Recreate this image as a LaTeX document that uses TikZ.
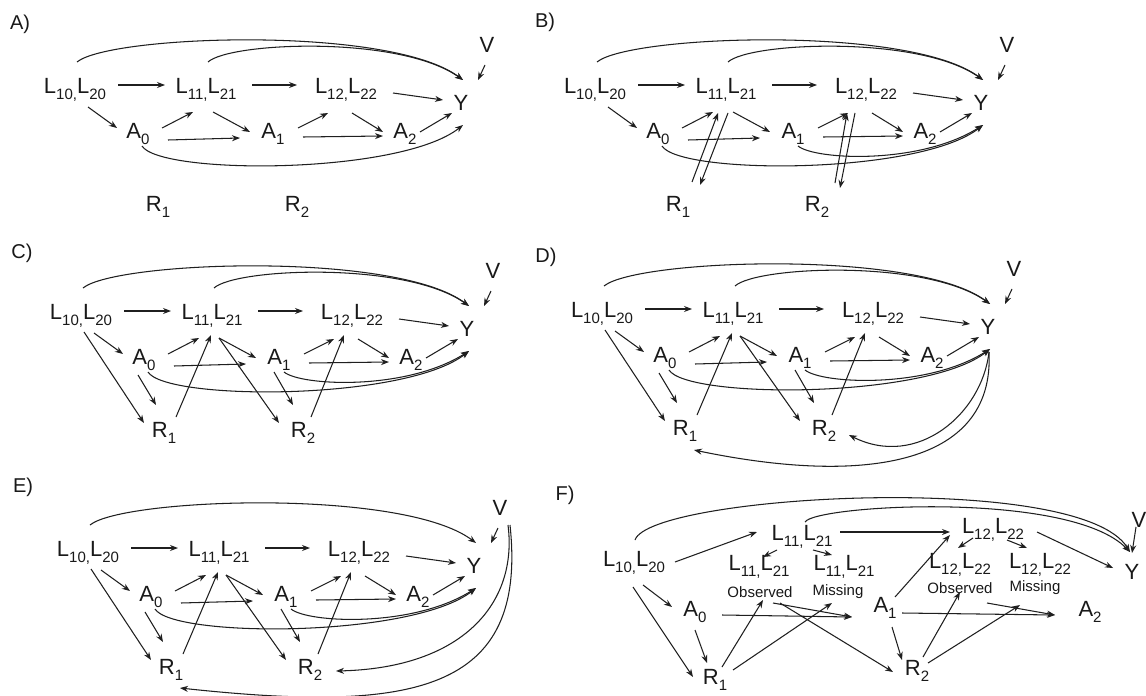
\documentclass[tikz,border=0pt]{standalone}
\usepackage{fontspec}
\setmainfont{Liberation Sans}
\usetikzlibrary{arrows.meta,calc}
\newcommand\sbs[1]{\raisebox{-0.3em}{\fontsize{15}{15}\selectfont #1}}
\newcommand\LL[2]{L\sbs{#1,}L\sbs{#2}}
\tikzset{
  nd/.style={inner sep=0pt, font=\fontsize{22}{24}\selectfont, text=black!90},
  small/.style={inner sep=0pt, font=\fontsize{15}{16}\selectfont, text=black!90},
  lab/.style={inner sep=0pt, font=\fontsize{20}{22}\selectfont, text=black!90},
  ar/.style={-{Stealth[length=8pt,width=6pt]}, line width=1.05pt, draw=black!88},
}
\newcommand\edg[4]{\draw[ar] ($(#1)+(#2)$) -- ($(#3)+(#4)$);}
\newcommand\crv[6]{\draw[ar] ($(#1)+(#2)$) .. controls (#5) and (#6) .. ($(#3)+(#4)$);}
\newcommand\tnodes[1]{%
  \node[nd] (#1L0) at (75,90) {\LL{10}{20}};
  \node[nd] (#1L1) at (206,90) {\LL{11}{21}};
  \node[nd] (#1L2) at (346,90) {\LL{12}{22}};
  \node[nd] (#1Y) at (461,103) {Y};
  \node[nd] (#1V) at (487,45) {V};
  \node[nd] (#1A0) at (138,134) {A\sbs{0}};
  \node[nd] (#1A1) at (273,134) {A\sbs{1}};
  \node[nd] (#1A2) at (405,134) {A\sbs{2}};
  \node[nd] (#1R1) at (158,207) {R\sbs{1}};
  \node[nd] (#1R2) at (297,207) {R\sbs{2}};
}
\newcommand\baseedges[1]{%
  \edg{#1L0}{43,-5}{#1L1}{-41,-5}
  \edg{#1L1}{46,-5}{#1L2}{-49,-5}
  \edg{#1L2}{47,3}{#1Y}{-18,-3}
  \edg{#1V}{-2,20}{#1Y}{17,-23}
  \edg{#1L0}{13,17}{#1A0}{-21,-6}
  \edg{#1A0}{24,-6}{#1L1}{-13,22}
  \edg{#1L1}{7,22}{#1A1}{-23,-2}
  \edg{#1A0}{30,6}{#1A1}{-33,4}
  \edg{#1A1}{25,-6}{#1L2}{-18,23}
  \edg{#1L2}{6,23}{#1A2}{-22,-2}
  \edg{#1A1}{30,3}{#1A2}{-22,2}
  \edg{#1A2}{15,-2}{#1Y}{-9,10}
}
\newcommand\LzeroTop[1]{\crv{#1L0}{2,-28}{#1Y}{2,-23}{110,35}{390,25}}
\newcommand\LoneTop[1]{\crv{#1L1}{2,-28}{#1Y}{2,-23}{230,42}{400,35}}
\newcommand\AzeroBot[1]{\crv{#1A0}{4,12}{#1Y}{2,22}{160,175}{400,175}}
\newcommand\AoneBot[1]{\crv{#1A1}{5,12}{#1Y}{2,22}{295,160}{400,165}}
\newcommand\Rextras[1]{%
  \edg{#1L0}{3,16}{#1R1}{-20,-10}
  \edg{#1A0}{-6,15}{#1R1}{-8,-28}
  \edg{#1R1}{12,-16}{#1L1}{-1,19}
  \edg{#1L1}{7,22}{#1R2}{-24,-10}
  \edg{#1A1}{-5,12}{#1R2}{-10,-28}
  \edg{#1R2}{8,-16}{#1L2}{-8,19}
}
\begin{document}
\begin{tikzpicture}[x=1pt,y=-1pt]
\useasboundingbox[fill=white] (0,0) rectangle (1146,696);
% panel labels
\node[lab] (labA) at (20,24) {A)};
\node[lab] (labB) at (545,22) {B)};
\node[lab] (labC) at (22,253) {C)};
\node[lab] (labD) at (546,257) {D)};
\node[lab] (labE) at (23,487) {E)};
\node[lab] (labF) at (565,495) {F)};
% A
\begin{scope}[shift={(0,0)}]
  \tnodes{a}\baseedges{a}
  \LzeroTop{a}\LoneTop{a}\AzeroBot{a}
\end{scope}
% B
\begin{scope}[shift={(520,0)}]
  \tnodes{b}\baseedges{b}
  \LzeroTop{b}\LoneTop{b}\AzeroBot{b}\AoneBot{b}
  \edg{bR1}{14,-25}{bL1}{-8,23}
  \edg{bL1}{2,23}{bR1}{22,-22}
  \edg{bR2}{18,-24}{bL2}{-19,23}
  \edg{bL2}{-11,23}{bR2}{23,-19}
\end{scope}
% C
\begin{scope}[shift={(6,226)}]
  \tnodes{c}\baseedges{c}
  \LzeroTop{c}\LoneTop{c}\AzeroBot{c}\AoneBot{c}
  \Rextras{c}
\end{scope}
% D
\begin{scope}[shift={(527,224)}]
  \tnodes{d}\baseedges{d}
  \LzeroTop{d}\LoneTop{d}\AzeroBot{d}\AoneBot{d}
  \Rextras{d}
  \crv{dY}{1,25}{dR2}{25,4}{455,190}{390,245}
  \crv{dY}{1,25}{dR1}{9,19}{468,245}{330,260}
\end{scope}
% E
\begin{scope}[shift={(13,463)}]
  \tnodes{e}\baseedges{e}
  \LzeroTop{e}\AzeroBot{e}\AoneBot{e}
  \Rextras{e}
  \crv{eV}{8,17}{eR2}{26,1}{505,140}{450,205}
  \crv{eV}{10,17}{eR1}{9,18}{515,230}{400,250}
\end{scope}
% F
\node[nd] (fL0) at (634,563) {\LL{10}{20}};
\node[nd] (fL1) at (802,537) {\LL{11}{21}};
\node[nd] (fL2) at (993,530) {\LL{12}{22}};
\node[nd] (fL1o) at (759,567) {\LL{11}{21}};
\node[small] (fL1ot) at (760,592) {Observed};
\node[nd] (fL1m) at (844,567) {\LL{11}{21}};
\node[small] (fL1mt) at (838,592) {Missing};
\node[nd] (fL2o) at (960,565) {\LL{12}{22}};
\node[small] (fL2ot) at (960,588) {Observed};
\node[nd] (fL2m) at (1040,565) {\LL{12}{22}};
\node[small] (fL2mt) at (1035,588) {Missing};
\node[nd] (fY) at (1132,572) {Y};
\node[nd] (fV) at (1139,520) {V};
\node[nd] (fA0) at (695,612) {A\sbs{0}};
\node[nd] (fA1) at (885,608) {A\sbs{1}};
\node[nd] (fA2) at (1090,612) {A\sbs{2}};
\node[nd] (fR1) at (715,680) {R\sbs{1}};
\node[nd] (fR2) at (917,671) {R\sbs{2}};
\crv{fL0}{1,-23}{fY}{-2,-20}{650,495}{1080,470}
\crv{fL1}{3,-15}{fY}{-2,-20}{815,505}{1070,490}
\edg{fV}{-3,7}{fY}{0,-19}
\edg{fL0}{41,-1}{fL1}{-45,-5}
\edg{fL1}{38,-5}{fL2}{-43,2}
\edg{fA1}{10,-11}{fL2}{-43,5}
\edg{fL2}{44,2}{fY}{-19,-4}
\edg{fL1}{-25,13}{fL1o}{4,-10}
\edg{fL1}{11,13}{fL1m}{-12,-12}
\edg{fL2}{-20,8}{fL2o}{-2,-17}
\edg{fL2}{14,10}{fL2m}{-13,-17}
\edg{fL0}{9,22}{fA0}{-23,-5}
\edg{fL0}{-1,24}{fR1}{-22,-3}
\edg{fA0}{0,18}{fR1}{-8,-17}
\edg{fA0}{27,3}{fA1}{-33,9}
\edg{fR1}{7,-13}{fL1ot}{3,8}
\edg{fR1}{18,-10}{fL1mt}{-6,11}
\edg{fL1ot}{13,11}{fA1}{-33,9}
\edg{fL1ot}{20,11}{fR2}{-24,1}
\edg{fA1}{17,5}{fA2}{-35,3}
\edg{fL2ot}{27,15}{fA2}{-35,3}
\edg{fA1}{7,19}{fR2}{-15,-11}
\edg{fR2}{6,-14}{fL2ot}{0,4}
\edg{fR2}{11,-8}{fL2mt}{-15,17}
\end{tikzpicture}
\end{document}
